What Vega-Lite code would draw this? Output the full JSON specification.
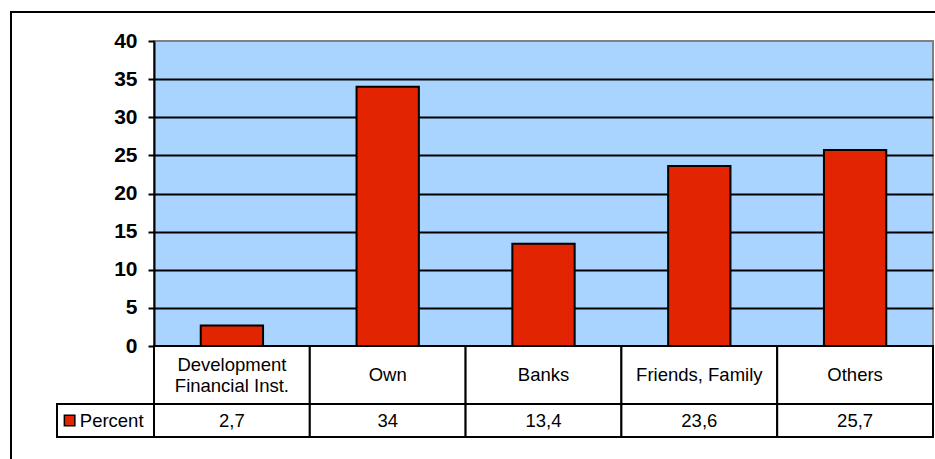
{
  "$schema": "https://vega.github.io/schema/vega-lite/v6.json",
  "padding": {"left": 10, "top": 11, "right": 0, "bottom": 0},
  "background": "white",
  "config": {
    "view": {"stroke": null},
    "font": "Liberation Sans",
    "text": {"color": "black"},
    "locale": {"number": {"decimal": ",", "thousands": ".", "grouping": [3], "currency": ["", " €"]}}
  },
  "datasets": {
    "sources": [
      {"source": "Development\nFinancial Inst.", "series": "Percent", "percent": 2.7},
      {"source": "Own", "series": "Percent", "percent": 34},
      {"source": "Banks", "series": "Percent", "percent": 13.4},
      {"source": "Friends, Family", "series": "Percent", "percent": 23.6},
      {"source": "Others", "series": "Percent", "percent": 25.7}
    ],
    "series": [{"series": "Percent"}],
    "none": []
  },
  "spacing": 0,
  "bounds": "full",
  "vconcat": [
    {"width": 925, "height": 2, "data": {"name": "none"}, "mark": "text", "view": {"fill": "black", "stroke": null}},
    {
      "spacing": 44,
      "bounds": "full",
      "hconcat": [
        {"width": 2, "height": 446, "data": {"name": "none"}, "mark": "text", "view": {"fill": "black", "stroke": null}},
        {
          "columns": 2,
          "spacing": 0,
          "bounds": "flush",
          "resolve": {"scale": {"x": "independent", "y": "independent"}},
          "concat": [
            {"width": 97, "height": 28, "data": {"name": "none"}, "mark": "text"},
            {"width": 779, "height": 28, "data": {"name": "none"}, "mark": "text"},
            {"width": 97, "height": 305, "data": {"name": "none"}, "mark": "text"},
            {
              "width": 779,
              "height": 305,
              "data": {"name": "sources"},
              "view": {"fill": "#A8D4FF", "stroke": "#808080", "strokeWidth": 2},
              "mark": {"type": "bar", "fill": "#E22400", "stroke": "black", "strokeWidth": 2},
              "encoding": {
                "x": {
                  "field": "source", "type": "nominal", "sort": null, "axis": null,
                  "scale": {"type": "band", "paddingInner": 0.6, "paddingOuter": 0.3}
                },
                "y": {
                  "field": "percent", "type": "quantitative",
                  "scale": {"domain": [0, 40], "nice": false, "zero": true},
                  "axis": {
                    "values": [0, 5, 10, 15, 20, 25, 30, 35, 40],
                    "title": null,
                    "labelFontSize": 21,
                    "labelFontWeight": "bold",
                    "labelColor": "black",
                    "labelPadding": 11,
                    "tickSize": 6,
                    "tickColor": "black",
                    "tickWidth": 2,
                    "domainColor": "black",
                    "domainWidth": 2,
                    "grid": true,
                    "gridColor": "black",
                    "gridWidth": 2,
                    "gridOpacity": {"condition": {"test": "datum.value === 40", "value": 0}, "value": 1}
                  }
                }
              }
            },
            {"width": 97, "height": 58, "data": {"name": "none"}, "mark": "text"},
            {
              "width": 779,
              "height": 58,
              "data": {"name": "sources"},
              "encoding": {
                "x": {
                  "field": "source", "type": "nominal", "sort": null, "axis": null,
                  "scale": {"type": "band", "paddingInner": 0, "paddingOuter": 0}
                }
              },
              "layer": [
                {
                  "mark": {"type": "rect", "fill": "white", "stroke": "black", "strokeWidth": 2},
                  "encoding": {"y": {"value": 0}, "y2": {"value": "height"}}
                },
                {
                  "transform": [{"filter": "indexof(datum.source, '\\n') < 0"}],
                  "mark": {"type": "text", "fontSize": 18.5, "baseline": "middle", "color": "black"},
                  "encoding": {"text": {"field": "source"}}
                },
                {
                  "transform": [{"filter": "indexof(datum.source, '\\n') >= 0"}],
                  "mark": {"type": "text", "fontSize": 18.5, "lineBreak": "\n", "lineHeight": 21, "baseline": "middle", "dy": -10.5, "color": "black"},
                  "encoding": {"text": {"field": "source"}}
                }
              ]
            },
            {
              "width": 97,
              "height": 33,
              "data": {"name": "series"},
              "encoding": {
                "x": {
                  "field": "series", "type": "nominal", "axis": null,
                  "scale": {"type": "band", "paddingInner": 0, "paddingOuter": 0}
                }
              },
              "layer": [
                {
                  "mark": {"type": "rect", "fill": "white", "stroke": "black", "strokeWidth": 2},
                  "encoding": {"y": {"value": 0}, "y2": {"value": "height"}}
                },
                {
                  "mark": {"type": "point", "shape": "square", "filled": true, "fill": "#E22400", "stroke": "black", "strokeWidth": 1.5, "size": 110, "opacity": 1},
                  "encoding": {
                    "x": {"field": "series", "type": "nominal", "axis": null, "bandPosition": 0.13}
                  }
                },
                {
                  "mark": {"type": "text", "align": "left", "baseline": "middle", "fontSize": 18.5, "color": "black"},
                  "encoding": {
                    "x": {"field": "series", "type": "nominal", "axis": null, "bandPosition": 0.235},
                    "text": {"field": "series"}
                  }
                }
              ]
            },
            {
              "width": 779,
              "height": 33,
              "data": {"name": "sources"},
              "encoding": {
                "x": {
                  "field": "source", "type": "nominal", "sort": null, "axis": null,
                  "scale": {"type": "band", "paddingInner": 0, "paddingOuter": 0}
                }
              },
              "layer": [
                {
                  "mark": {"type": "rect", "fill": "white", "stroke": "black", "strokeWidth": 2},
                  "encoding": {"y": {"value": 0}, "y2": {"value": "height"}}
                },
                {
                  "mark": {"type": "text", "fontSize": 18.5, "baseline": "middle", "color": "black"},
                  "encoding": {"text": {"field": "percent", "type": "quantitative", "format": ".1~f"}}
                }
              ]
            }
          ]
        }
      ]
    }
  ]
}
